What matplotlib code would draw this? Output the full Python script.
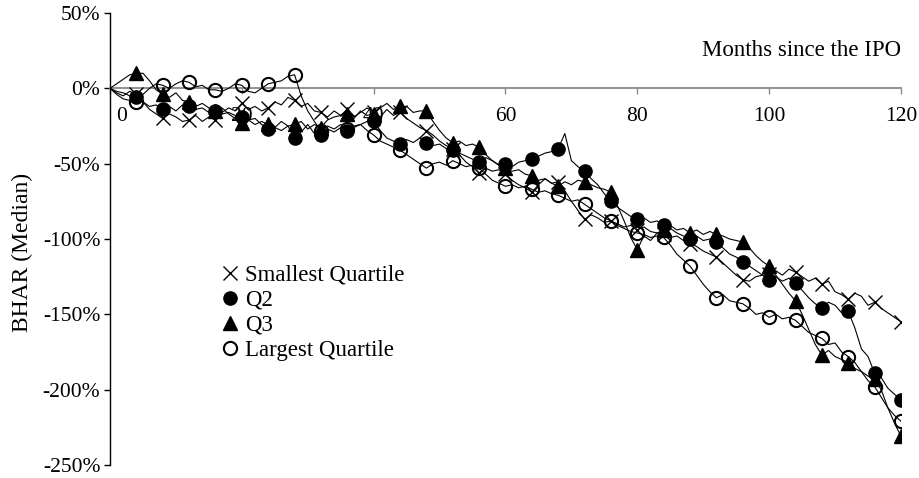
import matplotlib.pyplot as plt
from matplotlib.lines import Line2D
from matplotlib.transforms import ScaledTranslation

plt.rcParams['font.family'] = ['Liberation Serif', 'DejaVu Serif']

# monthly median BHAR (%) by size quartile, months 0..120
months = list(range(121))

smallest = [
    0, -3, -5, -2, -4, -9, -14, -17, -20, -17, -19, -22, -21,
    -18, -22, -19, -21, -16, -13, -15, -10, -14, -12, -15, -13,
    -9, -11, -6, -8, -12, -10, -15, -16, -19, -15, -18, -14,
    -19, -16, -13, -16, -19, -14, -18, -16, -20, -23, -26, -28,
    -31, -35, -38, -40, -44, -49, -52, -56, -53, -55, -54, -57,
    -61, -64, -66, -69, -64, -60, -63, -62, -68, -75, -81, -87,
    -84, -86, -89, -88, -90, -92, -91, -94, -92, -95, -96, -97,
    -99, -98, -101, -103, -105, -108, -110, -112, -116, -120, -124, -127,
    -128, -125, -124, -123, -121, -124, -120, -122, -125, -128, -126, -130,
    -128, -135, -137, -140, -136, -138, -144, -142, -146, -149, -152, -155,
]

q2 = [
    0, -2, -3, -5, -6, -9, -12, -11, -14, -12, -15, -11, -12,
    -14, -13, -16, -15, -17, -16, -18, -19, -21, -20, -24, -27,
    -26, -28, -25, -33, -29, -24, -30, -31, -27, -29, -26, -28,
    -25, -24, -22, -22, -28, -33, -35, -37, -34, -36, -33, -36,
    -38, -37, -40, -41, -43, -45, -47, -49, -46, -48, -51, -50,
    -52, -49, -48, -47, -45, -43, -42, -40, -30, -48, -52, -55,
    -60, -64, -70, -75, -79, -82, -85, -87, -86, -89, -88, -91,
    -93, -96, -98, -100, -98, -101, -100, -102, -106, -110, -112, -115,
    -118, -121, -124, -127, -125, -128, -126, -129, -134, -139, -143, -146,
    -142, -144, -149, -148, -159, -173, -178, -189, -192, -199, -203, -207,
]

q3 = [
    0, 3, 6, 9, 10, 10, 5, -1, -4, -6, -3, -8, -9,
    -12, -10, -13, -15, -13, -17, -20, -23, -21, -24, -22, -24,
    -26, -22, -25, -24, -22, -27, -24, -26, -21, -19, -18, -17,
    -20, -15, -18, -17, -13, -10, -14, -12, -12, -16, -15, -15,
    -22, -28, -33, -36, -35, -38, -37, -39, -44, -48, -51, -53,
    -55, -54, -57, -58, -61, -60, -63, -65, -62, -64, -61, -62,
    -64, -66, -67, -69, -78, -88, -99, -107, -98, -101, -96, -94,
    -91, -94, -93, -96, -94, -97, -95, -97, -98, -100, -101, -102,
    -106, -111, -115, -118, -124, -130, -136, -141, -150, -160, -170, -177,
    -174, -178, -180, -182, -186, -188, -191, -193, -200, -212, -222, -231,
]

largest = [
    0, -4, -7, -8, -9, -4, 0, 3, 2, 0, 3, 5, 4,
    1, 2, -1, -1, -2, 0, 3, 2, -2, -3, 0, 3,
    4, 5, 8, 9, -5, -15, -22, -28, -25, -27, -24, -27,
    -26, -24, -28, -31, -35, -37, -39, -41, -44, -47, -50, -53,
    -50, -49, -51, -48, -50, -52, -51, -53, -57, -61, -63, -65,
    -64, -66, -65, -67, -69, -68, -70, -71, -73, -75, -74, -77,
    -80, -83, -86, -88, -91, -93, -95, -96, -97, -99, -98, -99,
    -104, -110, -114, -118, -124, -130, -135, -139, -137, -141, -142, -143,
    -146, -150, -149, -152, -150, -153, -152, -154, -158, -162, -164, -166,
    -170, -169, -175, -178, -182, -188, -194, -198, -205, -212, -217, -221,
]

series_names = ['Smallest Quartile', 'Q2', 'Q3', 'Largest Quartile']
x_ticks = [0, 20, 40, 60, 80, 100, 120]
y_ticks = [-250, -200, -150, -100, -50, 0, 50]

styles = [
    dict(marker='x', markersize=9.5, markeredgewidth=1.0, markerfacecolor='black'),
    dict(marker='o', markersize=9.5, markerfacecolor='black', markeredgewidth=1.0),
    dict(marker='^', markersize=10.5, markerfacecolor='black', markeredgewidth=1.0),
    dict(marker='o', markersize=9.5, markerfacecolor='none', markeredgewidth=1.5),
]

fig = plt.figure(figsize=(9.19, 4.78), dpi=100)
ax = fig.add_axes([0.1197, 0.0272, 0.8607, 0.9456])

marks = list(range(4, 121, 4))
for vals, st in zip([smallest, q2, q3, largest], styles):
    ax.plot(months, vals, color='black', linewidth=0.8,
            markeredgecolor='black', markevery=marks, zorder=3, **st)

ax.set_xlim(0, 120)
ax.set_ylim(-250, 50)

ax.spines['top'].set_visible(False)
ax.spines['right'].set_visible(False)
ax.spines['bottom'].set_position(('data', 0))
ax.spines['bottom'].set_color('#888888')
ax.spines['bottom'].set_linewidth(1.3)
ax.spines['left'].set_linewidth(1.0)

ax.set_xticks(x_ticks)
ax.set_xticklabels([str(t) for t in x_ticks])
ax.set_yticks(y_ticks)
ax.set_yticklabels(['%d%%' % t for t in y_ticks])

ax.tick_params(axis='x', direction='out', length=4.5, width=1.0,
               color='#888888', pad=9, labelsize=15.5)
ax.tick_params(axis='y', direction='out', length=4, width=1.0,
               pad=3, labelsize=15.5)

# nudge the "0" label off the vertical axis
lbl0 = ax.get_xticklabels()[0]
lbl0.set_transform(lbl0.get_transform() + ScaledTranslation(8 / 72, 0, fig.dpi_scale_trans))

ax.set_ylabel('BHAR (Median)', fontsize=17)
ax.yaxis.set_label_coords(-0.097, 0.47)

ax.text(120, 25, 'Months since the IPO', ha='right', va='center', fontsize=16.5)

handles = [Line2D([], [], color='black', linestyle='none',
                  markeredgecolor='black', **st) for st in styles]
ax.legend(handles, series_names, loc='upper left',
          bbox_to_anchor=(0.2403, 0.446), bbox_transform=fig.transFigure,
          frameon=False, fontsize=16.5, handlelength=0.8, handletextpad=0.25,
          labelspacing=0.17, borderpad=0, borderaxespad=0)

fig.savefig('out.png', dpi=100)
